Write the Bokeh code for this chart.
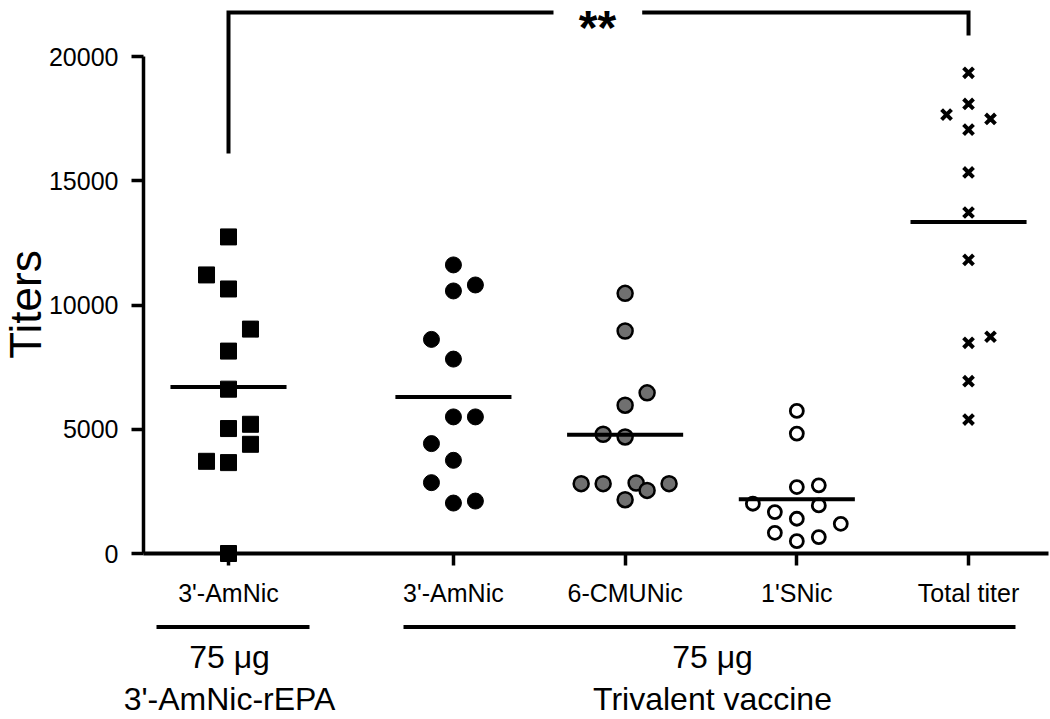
import numpy as np
from bokeh.plotting import figure
from bokeh.models import Range1d, Label, FixedTicker
from bokeh.embed import file_html
from bokeh.resources import INLINE

# ---------------- data ----------------
categories = ["3'-AmNic", "3'-AmNic", "6-CMUNic", "1'SNic", "Total titer"]
cat_pos = [1.0, 2.31, 3.31, 4.31, 5.31]
y_ticks = [0, 5000, 10000, 15000, 20000]

amnic_repa = [12740, 11210, 10645, 9030, 8145, 6613, 5200, 5028, 4395, 3710, 3657, 0]
amnic_repa_slot = [0, -1, 0, 1, 0, 0, 1, 0, 1, -1, 0, 0]

tri_amnic = [11613, 10806, 10565, 8616, 7823, 5497, 5497, 4422, 3750, 2851, 2030, 2110]
tri_amnic_slot = [0, 1, 0, -1, 0, 0, 1, -1, 0, -1, 0, 1]

tri_cmunic = [10470, 8952, 6464, 5968, 4798, 4690, 2810, 2810, 2836, 2540, 2810, 2165]
tri_cmunic_slot = [0, 0, 1, 0, -1, 0, -2, -1, 0.5, 1, 2, 0]

tri_snic = [5738, 4825, 2675, 2742, 2003, 1935, 1667, 1398, 1196, 834, 659, 497]
tri_snic_slot = [0, 0, 0, 1, -2, 1, -1, 0, 2, -1, 1, 0]

total_titer = [19343, 18092, 17661, 17488, 17056, 15335, 13722, 11815, 8722, 8480, 6935, 5390]
total_titer_slot = [0, 0, -1, 1, 0, 0, 0, 0, 1, 0, 0, 0]

group_dose = ["75 \u03bcg", "75 \u03bcg"]
group_names = ["3'-AmNic-rEPA", "Trivalent vaccine"]
signif = "**"
y_title = "Titers"

# ---------------- layout (pixel geometry of the canvas) ----------------
W, H = 1050, 719
FONT = "Liberation Sans"
X_PPU = 171.7                 # pixels per x unit
Y_PPU = 124.25 / 5000         # pixels per titer unit
X_AT_PX0 = 1 - 228 / X_PPU    # data x at canvas left edge
Y0_PX = 553                   # pixel row of titer 0
SLOT = 0.128                  # horizontal jitter step (data units)
HALF = 0.338                  # half width of mean bars


def dx(px):
    return X_AT_PX0 + px / X_PPU


def dy(py):
    return (Y0_PX - py) / Y_PPU


p = figure(width=W, height=H, output_backend="svg", toolbar_location=None,
           x_range=Range1d(dx(0), dx(W)), y_range=Range1d(dy(H), dy(0)),
           min_border=0, min_border_left=0, min_border_right=0,
           min_border_top=0, min_border_bottom=0)
p.grid.visible = False
p.outline_line_color = None
p.background_fill_color = "white"
p.border_fill_color = "white"

# y axis drawn inside the frame at a fixed x location
yax = p.yaxis[0]
yax.fixed_location = dx(143)
yax.ticker = FixedTicker(ticks=y_ticks)
yax.bounds = (0, 20000)
yax.axis_line_width = 3.5
yax.major_tick_line_width = 3.5
yax.major_tick_out = 12
yax.major_tick_in = 0
yax.minor_tick_out = 0
yax.minor_tick_in = 0
yax.major_label_text_font = FONT
yax.major_label_text_font_size = "25px"
yax.major_label_text_color = "black"
yax.major_label_standoff = 13
yax.axis_line_color = "black"
yax.major_tick_line_color = "black"

# x axis at titer 0
xax = p.xaxis[0]
xax.fixed_location = 0
xax.ticker = FixedTicker(ticks=cat_pos)
xax.bounds = (dx(143), dx(1048))
xax.major_label_overrides = {pos: lab for pos, lab in zip(cat_pos, categories)}
xax.axis_line_width = 4
xax.major_tick_line_width = 3.5
xax.major_tick_out = 12
xax.major_tick_in = 0
xax.minor_tick_out = 0
xax.minor_tick_in = 0
xax.major_label_text_font = FONT
xax.major_label_text_font_size = "25px"
xax.major_label_text_color = "black"
xax.major_label_standoff = 13
xax.axis_line_color = "black"
xax.major_tick_line_color = "black"


def jitter(center, slots):
    return [center + s * SLOT for s in slots]


groups = [
    (amnic_repa, amnic_repa_slot, dict(marker="square", size=16, fill_color="black", line_color="black", line_width=1)),
    (tri_amnic, tri_amnic_slot, dict(marker="circle", size=16, fill_color="black", line_color="black", line_width=1)),
    (tri_cmunic, tri_cmunic_slot, dict(marker="circle", size=15, fill_color="#707070", line_color="black", line_width=2.5)),
    (tri_snic, tri_snic_slot, dict(marker="circle", size=13, fill_color="white", line_color="black", line_width=2.8)),
    (total_titer, total_titer_slot, dict(marker="x", size=14, line_color="black", line_width=4)),
]

for (vals, slots, style), c in zip(groups, cat_pos):
    p.scatter(jitter(c, slots), vals, **style)

for (vals, slots, style), c in zip(groups, cat_pos):
    m = float(np.mean(vals))
    p.segment(x0=[c - HALF], x1=[c + HALF], y0=[m], y1=[m], line_color="black", line_width=4)

# significance bracket
br_y = dy(12)
p.line([cat_pos[0], cat_pos[0], dx(553)], [dy(153), br_y, br_y],
       line_color="black", line_width=4, line_join="miter")
p.line([dx(641.7), cat_pos[4], cat_pos[4]], [br_y, br_y, dy(35)],
       line_color="black", line_width=4, line_join="miter")
p.add_layout(Label(x=dx(597), y=dy(27), text=signif, text_align="center", text_baseline="alphabetic",
                   text_font=FONT, text_font_size="48px", text_font_style="bold", text_color="black"))

# y axis title
p.add_layout(Label(x=dx(25), y=dy(304), text=y_title, angle=np.pi / 2, text_align="center",
                   text_baseline="middle", text_font=FONT, text_font_size="44px", text_color="black"))

# group bars and labels below the axis
bars = [(dx(156), dx(309)), (dx(403), dx(1015))]
label_x = [dx(229), dx(712)]
for (x0, x1), lx, dose, name in zip(bars, label_x, group_dose, group_names):
    p.segment(x0=[x0], x1=[x1], y0=[dy(626.5)], y1=[dy(626.5)], line_color="black", line_width=4)
    p.add_layout(Label(x=lx, y=dy(656), text=dose, text_align="center", text_baseline="alphabetic",
                       text_font=FONT, text_font_size="32px", text_color="black"))
    p.add_layout(Label(x=lx, y=dy(698), text=name, text_align="center", text_baseline="alphabetic",
                       text_font=FONT, text_font_size="32px", text_color="black"))

open("out.html", "w").write(file_html(p, INLINE))
